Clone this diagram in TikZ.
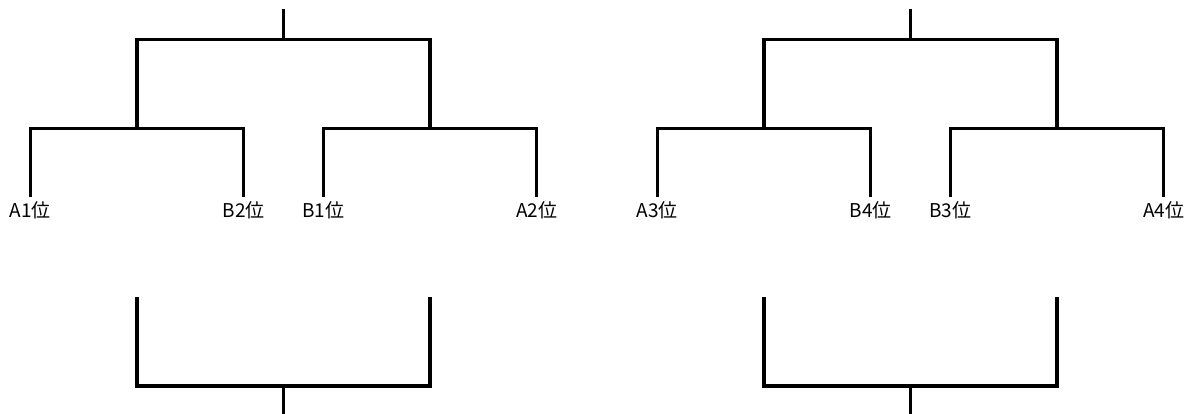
\documentclass[tikz,border=0pt]{standalone}
\usepackage{fontspec}
\newfontfamily\jpfont{Noto Sans CJK JP}

\begin{document}
\begin{tikzpicture}[x=1pt,y=1pt,line width=3.4pt,
  rank/.style={anchor=north,inner xsep=0pt,inner ysep=3pt,font=\jpfont\fontsize{19}{19}\selectfont},
  level 1/.style={sibling distance=293pt,level distance=119.5pt,
    edge from parent path={(\tikzparentnode) -- ++(0,-30.5) -| (\tikzchildnode)}},
  level 2/.style={sibling distance=213.5pt,level distance=68.5pt,
    edge from parent path={(\tikzparentnode) -| (\tikzchildnode.north)}}]
  \useasboundingbox (0,0) rectangle (1190,414);
  \node [coordinate] (l) at (283.5,405) {}
    child {
      coordinate (la)
        child {node [rank] (a1) {A1位}}
        child {node [rank] (b2) {B2位}}
      }
    child {
      coordinate (lb)
        child {node [rank] (b1) {B1位}}
        child {node [rank] (a2) {A2位}}
    };
  \node [coordinate] (r) at (910.5,405) {}
    child {
      coordinate (ra)
        child {node [rank] (a3) {A3位}}
        child {node [rank] (b4) {B4位}}
      }
    child {
      coordinate (rb)
        child {node [rank] (b3) {B3位}}
        child {node [rank] (a4) {A4位}}
    };
  \begin{scope}[grow=up,level 1/.style={sibling distance=293pt,level distance=117pt,
    edge from parent path={(\tikzparentnode) -- ++(0,28) -| (\tikzchildnode)}}]
    \node [coordinate] (lm) at (283.5,0) {}
      child {coordinate (lm1)}
      child {coordinate (lm2)};
    \node [coordinate] (rm) at (910.5,0) {}
      child {coordinate (rm1)}
      child {coordinate (rm2)};
  \end{scope}
\end{tikzpicture}
\end{document}
